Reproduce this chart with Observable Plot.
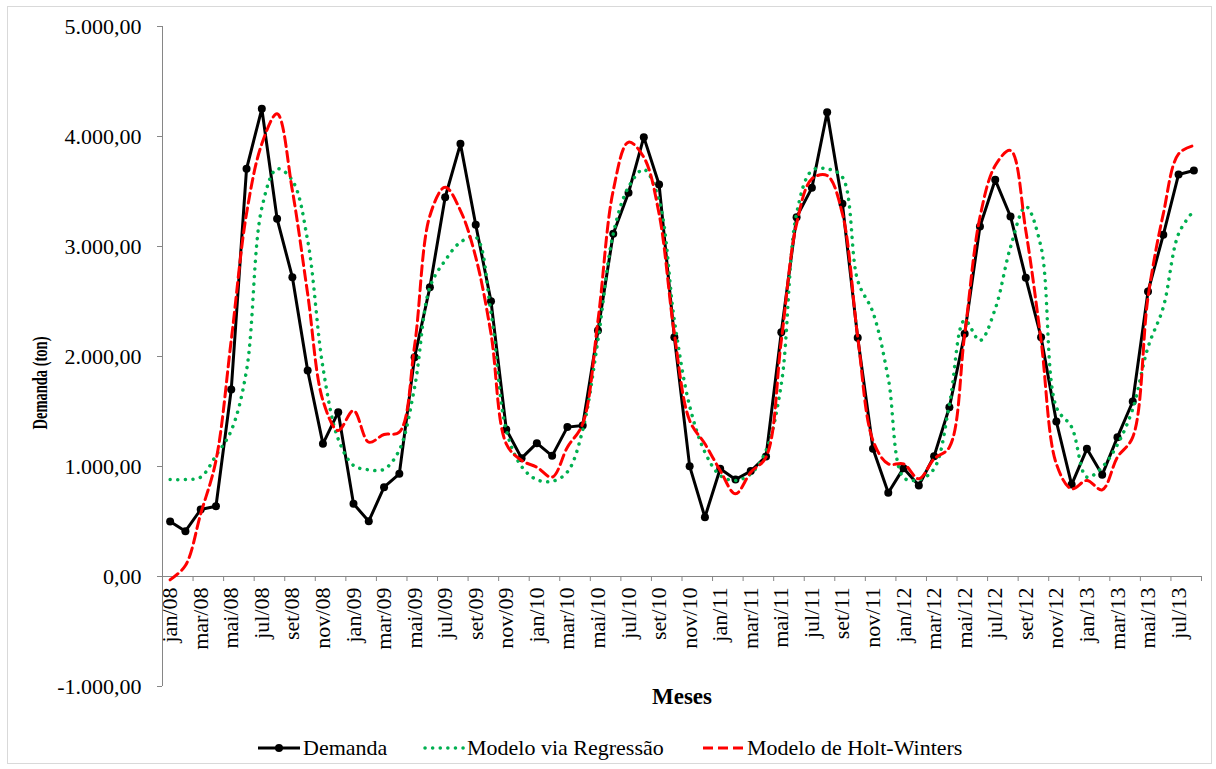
<!DOCTYPE html>
<html>
<head>
<meta charset="utf-8">
<script src="https://cdn.jsdelivr.net/npm/d3@7"></script>
<script src="https://cdn.jsdelivr.net/npm/@observablehq/plot@0.6"></script>
<style>
  body { margin: 0; background: #fff; font-family: "Liberation Serif", "Times New Roman", serif; }
  #wrap { position: relative; width: 1216px; height: 769px; overflow: hidden; background: #fff; }
  #chart { position: absolute; left: 0; top: 0; }
  #border { position: absolute; left: 7px; top: 6px; width: 1205px; height: 758px; border: 1px solid #d9d9d9; box-sizing: border-box; pointer-events: none; }
  #ytitle { position: absolute; left: 40px; top: 383px; white-space: nowrap; font-weight: bold; font-size: 21px; line-height: 1; color: #000;
            transform: translate(-50%, -50%) rotate(-90deg) scaleX(0.69); transform-origin: 50% 50%; }
  .leg { position: absolute; top: 734px; height: 28px; display: flex; align-items: center; font-size: 22px; color: #000; white-space: nowrap; }
  .leg svg { display: block; }
</style>
</head>
<body>
<div id="wrap">
  <div id="chart"></div>
  <div id="ytitle">Demanda (ton)</div>
  <div id="border"></div>
  <div class="leg" style="left:257px"><svg width="46" height="20"><line x1="1" y1="10" x2="43" y2="10" stroke="#000" stroke-width="3"/><circle cx="22" cy="10" r="4" fill="#000"/></svg><span>Demanda</span></div>
  <div class="leg" style="left:423px"><svg width="44" height="20"><line x1="2" y1="10" x2="42" y2="10" stroke="#00b050" stroke-width="3.5" stroke-linecap="round" stroke-dasharray="0.1 7.5"/></svg><span>Modelo via Regressão</span></div>
  <div class="leg" style="left:702px"><svg width="45" height="20"><line x1="1" y1="10" x2="43" y2="10" stroke="#ff0000" stroke-width="3" stroke-dasharray="10 5"/></svg><span>Modelo de Holt-Winters</span></div>
</div>
<script>
// ---- data ----
const monthNames = ["jan","fev","mar","abr","mai","jun","jul","ago","set","out","nov","dez"];
const years = ["08","09","10","11","12","13"];
const categories = [];
for (const yr of years) for (const m of monthNames) categories.push(m + "/" + yr);
categories.length = 68; // jan/08 .. ago/13

const tickLabels = ["jan/08","mar/08","mai/08","jul/08","set/08","nov/08",
  "jan/09","mar/09","mai/09","jul/09","set/09","nov/09",
  "jan/10","mar/10","mai/10","jul/10","set/10","nov/10",
  "jan/11","mar/11","mai/11","jul/11","set/11","nov/11",
  "jan/12","mar/12","mai/12","jul/12","set/12","nov/12",
  "jan/13","mar/13","mai/13","jul/13"];

const demanda = [
  500, 412, 609, 639, 1700, 3706, 4252, 3252, 2721, 1873, 1206, 1494,
  661, 503, 812, 933, 1994, 2630, 3448, 3933, 3197, 2503, 1336, 1076,
  1212, 1097, 1358, 1373, 2236, 3115, 3488, 3994, 3564, 2176, 1003, 539,
  979, 882, 958, 1091, 2221, 3267, 3533, 4221, 3388, 2170, 1161, 761,
  985, 827, 1094, 1539, 2206, 3182, 3606, 3273, 2715, 2176, 1409, 836,
  1161, 924, 1267, 1591, 2591, 3106, 3655, 3691];

const regressao = [
  882, 882, 903, 1100, 1327, 1873, 3350, 3706, 3600, 3055, 1900, 1250,
  1010, 970, 975, 1150, 1720, 2630, 2873, 3039, 3085, 2400, 1330, 1000,
  880, 865, 950, 1330, 2150, 3115, 3540, 3700, 3420, 2330, 1550, 1130,
  918, 873, 933, 1145, 1750, 3300, 3690, 3706, 3630, 2690, 2400, 1800,
  900, 880, 980, 1560, 2330, 2145, 2433, 2994, 3364, 2994, 1539, 1358,
  903, 994, 1200, 1524, 2085, 2448, 3115, 3327];

const holtWinters = [
  -30, 100, 570, 1055, 2150, 3300, 3933, 4206, 3509, 2570, 1600, 1327,
  1509, 1221, 1291, 1312, 2100, 3280, 3539, 3327, 2903, 2206, 1206, 1055,
  994, 903, 1176, 1388, 2327, 3509, 3948, 3812, 3297, 2206, 1418, 1206,
  964, 752, 948, 1085, 2145, 3206, 3615, 3645, 3297, 2176, 1236, 1024,
  1024, 888, 1070, 1176, 2200, 3267, 3736, 3873, 3145, 2145, 1024, 797,
  873, 788, 1085, 1267, 2539, 3297, 3842, 3918];

const yTicks = [-1000, 0, 1000, 2000, 3000, 4000, 5000];

// ---- build ----
const rows = (arr) => arr.map((v, i) => ({i, v}));
const ptBR = d3.formatLocale({decimal: ",", thousands: ".", grouping: [3], currency: ["", ""], minus: "-"});
const fmt = ptBR.format(",.2f");
const bounds = d3.range(0, categories.length + 1, 2);
const labelIdx = tickLabels.map(l => categories.indexOf(l));

const chart = Plot.plot({
  width: 1216,
  height: 720,
  marginLeft: 162,
  marginRight: 15,
  marginTop: 26,
  marginBottom: 34,
  x: {domain: [0, categories.length], axis: null},
  y: {domain: [-1000, 5000], axis: null},
  style: {fontFamily: "'Liberation Serif', 'Times New Roman', serif", background: "transparent", color: "black", overflow: "visible"},
  marks: [
    Plot.ruleX([0], {stroke: "#868686", strokeWidth: 1}),
    Plot.axisY({ticks: yTicks, tickSize: 5, tickPadding: 16, tickFormat: fmt, fontSize: 22, stroke: "#868686", fill: "black", label: null}),
    Plot.ruleY([0], {stroke: "#868686", strokeWidth: 1}),
    Plot.ruleX(bounds, {x: d => d, y1: () => 0, y2: () => 0, insetBottom: -5, stroke: "#868686"}),
    Plot.text(labelIdx, {x: i => i + 0.5, y: () => 0, text: i => categories[i], rotate: -90, textAnchor: "end", lineAnchor: "middle", dy: 11, fontSize: 22, fill: "black"}),
    Plot.line(rows(demanda), {x: d => d.i + 0.5, y: "v", stroke: "#000", strokeWidth: 3}),
    Plot.dot(rows(demanda), {x: d => d.i + 0.5, y: "v", r: 4, fill: "#000"}),
    Plot.line(rows(regressao), {x: d => d.i + 0.5, y: "v", stroke: "#00b050", strokeWidth: 3.5, strokeDasharray: "0.1 7.5", strokeLinecap: "round", curve: "catmull-rom"}),
    Plot.line(rows(holtWinters), {x: d => d.i + 0.5, y: "v", stroke: "#ff0000", strokeWidth: 3, strokeDasharray: "10 5", curve: "catmull-rom"}),
    Plot.text(["Meses"], {frameAnchor: "bottom", dy: 17, fontWeight: "bold", fontSize: 23, fill: "black"})
  ]
});
document.getElementById("chart").appendChild(chart);
</script>
</body>
</html>
